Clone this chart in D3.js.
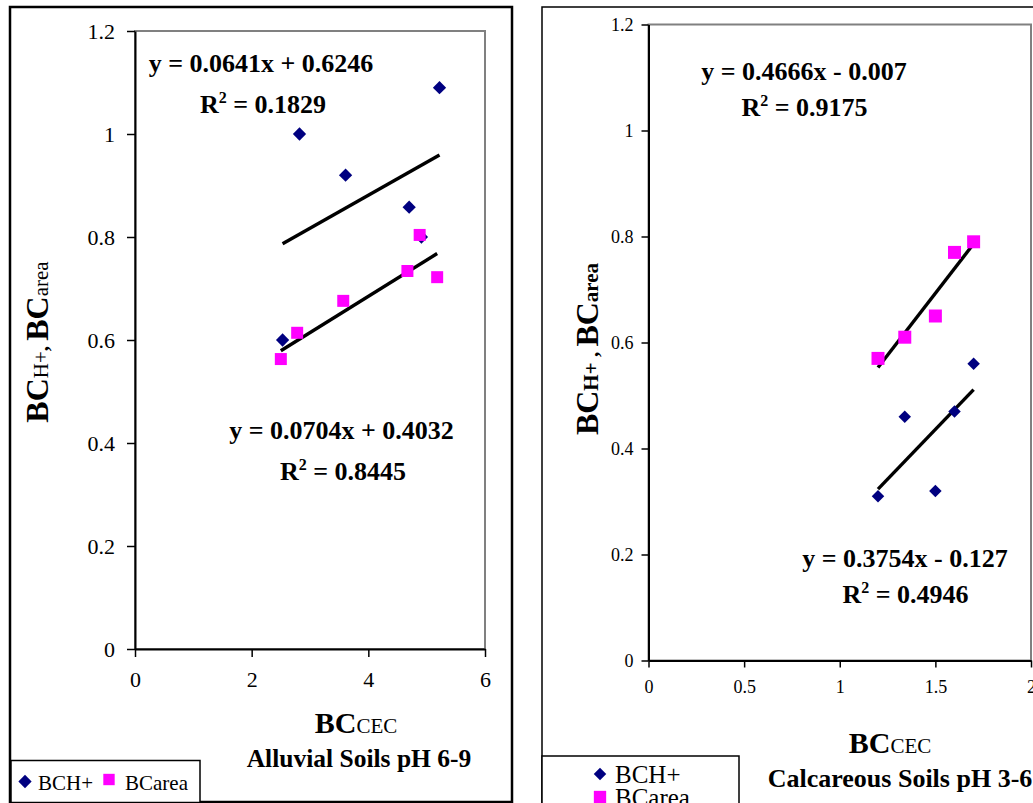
<!DOCTYPE html>
<html>
<head>
<meta charset="utf-8">
<script src="https://cdn.jsdelivr.net/npm/d3@7"></script>
<style>
  body { margin: 0; background: #fff; }
  text { font-family: "Liberation Serif", "Times New Roman", serif; }
</style>
</head>
<body>
<div id="chart"></div>
<script>
// values
var alluvialCecH = [2.82, 3.61, 5.22, 4.70, 4.91, 2.53];
var alluvialBcH = [1.0, 0.92, 1.09, 0.858, 0.80, 0.60];
var alluvialCecArea = [2.50, 2.78, 3.57, 4.67, 4.88, 5.18];
var alluvialBcArea = [0.563, 0.614, 0.676, 0.734, 0.804, 0.722];

var calcCec = [1.2, 1.34, 1.5, 1.6, 1.7];
var calcBcH = [0.31, 0.46, 0.32, 0.47, 0.56];
var calcBcArea = [0.57, 0.61, 0.65, 0.77, 0.79];

// trend lines: [slope, intercept, r2]
var alluvialFitH = [0.0641, 0.6246, 0.1829];
var alluvialFitArea = [0.0704, 0.4032, 0.8445];
var calcFitArea = [0.4666, -0.007, 0.9175];
var calcFitH = [0.3754, -0.127, 0.4946];

var alluvialXTicks = [0, 2, 4, 6];
var calcXTicks = [0, 0.5, 1, 1.5, 2];
var yTicks = [0, 0.2, 0.4, 0.6, 0.8, 1, 1.2];

var width = 1033, height = 803;
var serif = "'Liberation Serif', 'Times New Roman', serif";

var svg = d3.select("#chart").append("svg")
  .attr("width", width)
  .attr("height", height);

var panels = [
  {
    frame: [10, 7, 502, 795], frameWidth: 2.5,
    left: 135, top: 31, right: 485, bottom: 649,
    xDomain: [0, 6], xTicks: alluvialXTicks, tickFont: 22, tickSize: 8, padY: 12, padX: 14,
    series: [
      { x: alluvialCecH, y: alluvialBcH, fit: alluvialFitH, eq: "y = 0.0641x + 0.6246", eqPos: [261, 72], rPos: [263, 113] },
      { x: alluvialCecArea, y: alluvialBcArea, fit: alluvialFitArea, eq: "y = 0.0704x + 0.4032", eqPos: [341.5, 439], rPos: [343, 480] }
    ],
    diamondSize: 88, squareSize: 144,
    yTitle: { x: 48, y: 342, bold: false, comma: ", " },
    xTitle: [356, 733], sub: "Alluvial Soils pH 6-9", subPos: [359, 767], subFont: 25.5,
    legendBox: [11, 760.5, 189, 42], legendFont: 21,
    legend: [[25, 781.5, 38, 790], [109, 779.5, 125, 790]]
  },
  {
    frame: [542, 7, 600, 900], frameWidth: 1.5,
    left: 648.5, top: 24.5, right: 1031, bottom: 660.5,
    xDomain: [0, 2], xTicks: calcXTicks, tickFont: 18, tickSize: 7, padY: 8, padX: 13,
    series: [
      { x: calcCec, y: calcBcArea, fit: calcFitArea, eq: "y = 0.4666x - 0.007", eqPos: [804, 80], rPos: [804.5, 116] },
      { x: calcCec, y: calcBcH, fit: calcFitH, eq: "y = 0.3754x - 0.127", eqPos: [905, 567], rPos: [905.5, 603] }
    ],
    diamondSize: 78, squareSize: 169,
    yTitle: { x: 598, y: 349, bold: true, comma: " , " },
    xTitle: [890, 753], sub: "Calcareous Soils pH 3-6", subPos: [900, 787], subFont: 26,
    legendBox: [542, 756, 197, 60], legendFont: 25,
    legend: [[600, 774, 615, 782.5], [600, 797, 615, 806]]
  }
];

panels.forEach(function (p) {
  var g = svg.append("g");

  g.append("rect")
    .attr("x", p.frame[0]).attr("y", p.frame[1])
    .attr("width", p.frame[2]).attr("height", p.frame[3])
    .attr("fill", "none").attr("stroke", "#000").attr("stroke-width", p.frameWidth);

  var x = d3.scaleLinear().domain(p.xDomain).range([p.left, p.right]);
  var y = d3.scaleLinear().domain([0, 1.2]).range([p.bottom, p.top]);

  // plot area border (grey top/right)
  g.append("rect")
    .attr("x", p.left).attr("y", p.top)
    .attr("width", p.right - p.left).attr("height", p.bottom - p.top)
    .attr("fill", "none").attr("stroke", "#808080").attr("stroke-width", 2);

  var yAxis = g.append("g")
    .attr("transform", "translate(" + p.left + ",0)")
    .call(d3.axisLeft(y).tickValues(yTicks).tickFormat(d3.format("~g"))
      .tickSize(p.tickSize).tickSizeOuter(0).tickPadding(p.padY));

  var xAxis = g.append("g")
    .attr("transform", "translate(0," + p.bottom + ")")
    .call(d3.axisBottom(x).tickValues(p.xTicks).tickFormat(d3.format("~g"))
      .tickSize(p.tickSize).tickSizeOuter(0).tickPadding(p.padX));

  [yAxis, xAxis].forEach(function (a) {
    a.attr("font-family", serif).attr("font-size", p.tickFont);
    a.select(".domain").attr("stroke", "#000").attr("stroke-width", 2);
    a.selectAll(".tick line").attr("stroke", "#000").attr("stroke-width", 1.5);
    a.selectAll(".tick text").attr("fill", "#000");
  });

  p.series.forEach(function (s, i) {
    var pts = s.x.map(function (v, k) { return [v, s.y[k]]; });
    var isH = (s.y === alluvialBcH || s.y === calcBcH);

    var ext = d3.extent(s.x);
    g.append("line")
      .attr("x1", x(ext[0])).attr("y1", y(s.fit[0] * ext[0] + s.fit[1]))
      .attr("x2", x(ext[1])).attr("y2", y(s.fit[0] * ext[1] + s.fit[1]))
      .attr("stroke", "#000").attr("stroke-width", 3.4);

    g.selectAll(".pt" + i)
      .data(pts)
      .enter()
      .append("path")
      .attr("d", d3.symbol(d3.symbolSquare, isH ? p.diamondSize : p.squareSize))
      .attr("transform", function (d) {
        return "translate(" + x(d[0]) + "," + y(d[1]) + ")" + (isH ? " rotate(45)" : "");
      })
      .attr("fill", isH ? "#000080" : "#ff00ff");

    g.append("text")
      .attr("x", s.eqPos[0]).attr("y", s.eqPos[1])
      .attr("text-anchor", "middle")
      .attr("font-weight", "bold").attr("font-size", 26)
      .text(s.eq);

    var r = g.append("text")
      .attr("x", s.rPos[0]).attr("y", s.rPos[1])
      .attr("text-anchor", "middle")
      .attr("font-weight", "bold").attr("font-size", 26);
    r.append("tspan").text("R");
    r.append("tspan").attr("font-size", 16).attr("dy", -10).text("2");
    r.append("tspan").attr("dy", 10).text(" = " + s.fit[2]);
  });

  // y axis title
  var yt = g.append("text")
    .attr("transform", "translate(" + p.yTitle.x + "," + p.yTitle.y + ") rotate(-90)")
    .attr("text-anchor", "middle");
  var subW = p.yTitle.bold ? "bold" : "normal";
  yt.append("tspan").attr("font-weight", "bold").attr("font-size", 32).text("BC");
  yt.append("tspan").attr("font-weight", subW).attr("font-size", 21).text("H+");
  yt.append("tspan").attr("font-weight", "bold").attr("font-size", 21).text(p.yTitle.comma);
  yt.append("tspan").attr("font-weight", "bold").attr("font-size", 32).text("BC");
  yt.append("tspan").attr("font-weight", subW).attr("font-size", 21).text("area");

  // x axis title
  var xt = g.append("text")
    .attr("x", p.xTitle[0]).attr("y", p.xTitle[1])
    .attr("text-anchor", "middle");
  xt.append("tspan").attr("font-weight", "bold").attr("font-size", 30).text("BC");
  xt.append("tspan").attr("font-size", 21).text("CEC");

  g.append("text")
    .attr("x", p.subPos[0]).attr("y", p.subPos[1])
    .attr("text-anchor", "middle")
    .attr("font-weight", "bold").attr("font-size", p.subFont)
    .text(p.sub);

  // legend
  g.append("rect")
    .attr("x", p.legendBox[0]).attr("y", p.legendBox[1])
    .attr("width", p.legendBox[2]).attr("height", p.legendBox[3])
    .attr("fill", "#fff").attr("stroke", "#000").attr("stroke-width", 1.5);

  var names = ["BCH+", "BCarea"];
  p.legend.forEach(function (l, k) {
    g.append("path")
      .attr("d", d3.symbol(d3.symbolSquare, k == 0 ? p.diamondSize : p.squareSize * 0.9))
      .attr("transform", "translate(" + l[0] + "," + l[1] + ")" + (k == 0 ? " rotate(45)" : ""))
      .attr("fill", k == 0 ? "#000080" : "#ff00ff");
    g.append("text")
      .attr("x", l[2]).attr("y", l[3])
      .attr("font-size", p.legendFont)
      .text(names[k]);
  });
});
</script>
</body>
</html>
